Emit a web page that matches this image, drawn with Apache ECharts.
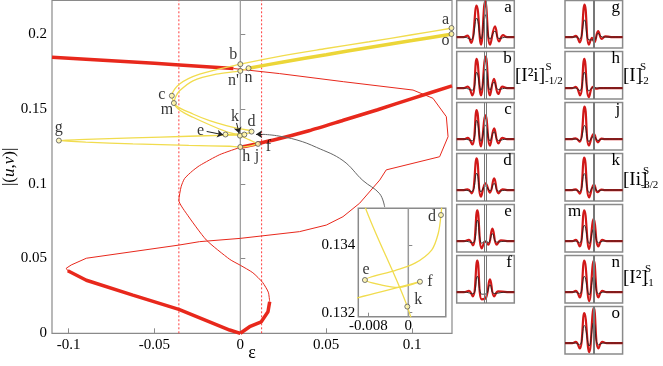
<!DOCTYPE html>
<html>
<head>
<meta charset="utf-8">
<script src="https://cdn.jsdelivr.net/npm/echarts@6/dist/echarts.min.js"></script>
<style>
html, body { margin: 0; padding: 0; background: #fff; }
#chart { width: 663px; height: 366px; }
</style>
</head>
<body>
<div id="chart"></div>
<script>
// ---- main diagram data (epsilon, |(u,v)|) ----
var mainXTicks = [-0.1, -0.05, 0, 0.05, 0.1];
var mainYTicks = [0, 0.05, 0.1, 0.15, 0.2];
var insetXTicks = [-0.008, 0];
var insetYTicks = [0.132, 0.134];
var dottedGuides = [-0.0358, 0.0124];

var redTopThick = [[-0.1097, 0.1846], [-0.08, 0.1827], [-0.05, 0.1806], [-0.0354, 0.1795], [-0.0062, 0.1773], [-0.004, 0.1771]];
var redTopThin = [[-0.004, 0.1771], [0.0229, 0.1737], [0.06, 0.1683], [0.1006, 0.1627], [0.1122, 0.1572], [0.12, 0.1449],
  [0.121, 0.1315], [0.1161, 0.1181], [0.085, 0.1093], [0.0812, 0.1025], [0.0695, 0.087], [0.0598, 0.078],
  [0.0501, 0.0724], [0.0345, 0.068], [0, 0.0635], [-0.0237, 0.0613], [-0.0358, 0.059], [-0.0897, 0.0502],
  [-0.0985, 0.0457], [-0.1014, 0.0435], [-0.1005, 0.0418]];
var redLowThick = [[-0.1005, 0.0418], [-0.0995, 0.0411], [-0.0897, 0.0355], [-0.0626, 0.0255], [-0.0358, 0.016], [-0.0062, 0.0022], [0, 0]];
var redRightThick = [[0, 0], [0.0054, 0.0044], [0.0122, 0.0077], [0.0161, 0.0144], [0.0171, 0.0211]];
var redRightThin = [[0.0171, 0.0211], [0.0163, 0.0275], [0.013, 0.034], [0.0073, 0.0405], [0, 0.0455], [-0.0062, 0.0495],
  [-0.0198, 0.0624], [-0.0315, 0.0803], [-0.0358, 0.0889], [-0.0345, 0.098], [-0.0325, 0.1035], [-0.028, 0.1085],
  [-0.0237, 0.1122], [-0.012, 0.1195], [0, 0.1244]];
var redUpperThick = [[0, 0.1244], [0.02, 0.1295], [0.04, 0.1355], [0.06, 0.1425], [0.08, 0.1495], [0.1, 0.157], [0.1233, 0.1655]];

var yelAC = [[0.1237, 0.2042], [0.1, 0.1997], [0.075, 0.195], [0.05, 0.1905], [0.025, 0.1858], [0, 0.18], [-0.0237, 0.1733],
  [-0.0354, 0.1667], [-0.0399, 0.1589], [-0.0373, 0.1522], [-0.0276, 0.1467], [-0.0179, 0.1422], [-0.0082, 0.1389],
  [0, 0.1367], [0.0062, 0.1356], [0.00667, 0.13515], [0.00653, 0.1349]];
var yelDEF = [[0.00653, 0.1349], [0.006, 0.13436], [0.00467, 0.13386], [0.00133, 0.13347], [-0.00267, 0.13325],
  [-0.00867, 0.13297], [-0.0053, 0.13282], [-0.002, 0.13275], [0.00233, 0.13292]];
var yelFG = [[0.00233, 0.13292], [-0.01, 0.13245], [-0.03, 0.1318], [-0.0626, 0.1307], [-0.09, 0.1297], [-0.1057, 0.1289],
  [-0.09, 0.1279], [-0.0626, 0.1267], [-0.03, 0.1257], [-0.0062, 0.1251], [0, 0.1246], [0.005, 0.1252], [0.0103, 0.1267]];
var yelJN = [[0.0103, 0.1267], [0.005, 0.1295], [-0.0002, 0.13218], [-0.00867, 0.13515], [-0.018, 0.1395], [-0.0276, 0.1445],
  [-0.035, 0.149], [-0.0387, 0.154], [-0.0375, 0.1585], [-0.0354, 0.1622], [-0.0276, 0.1689], [-0.014, 0.1733],
  [0, 0.1755], [0.0048, 0.1773]];
var yelNO = [[0.0048, 0.1773], [0.025, 0.1815], [0.05, 0.1863], [0.075, 0.1912], [0.1, 0.1958], [0.1237, 0.2002]];

var grayArc = [[0.013, 0.1331], [0.021, 0.1322], [0.033, 0.1293], [0.0443, 0.1244], [0.0598, 0.1155], [0.0714, 0.1022],
  [0.0812, 0.0933], [0.0841, 0.0844]];

var mainPointNames = ['a', 'o', 'b', "n'", 'n', 'c', 'm', 'g', 'e', 'k', 'f', 'd', 'h', 'j'];
var mainPointXY = [[0.123, 0.2042], [0.123, 0.2002], [0, 0.18], [0, 0.1755], [0.0048, 0.1773], [-0.0399, 0.1589],
  [-0.0387, 0.154], [-0.1057, 0.1289], [-0.00867, 0.13297], [-0.0002, 0.13218], [0.00233, 0.13292],
  [0.00653, 0.1349], [0, 0.1246], [0.0103, 0.1267]];
var insetPointNames = ['d', 'e', 'f', 'k'];
var insetPointXY = [[0.00653, 0.1349], [-0.00867, 0.13297], [0.00233, 0.13292], [-0.0002, 0.13218]];

// arrows: [from, to]
var arrowE = [[-0.0196, 0.135], [-0.0100, 0.1328]];
var arrowK = [[-0.0022, 0.1407], [-0.0007, 0.1338]];
var arrowF = [[0.013, 0.1331], [0.0092, 0.1331]];

// ---- profile panels (position, amplitude) ----
var redA = [[-10, 0], [-7.5, 0], [-6.3, 0.04], [-5, -0.16], [-3.1, 0.86], [-1.55, -0.21], [-0.1, 0.98], [1.6, -0.21], [3.3, 0.29], [4.7, -0.12], [6.1, 0.05], [7.5, 0], [10, 0]];
var blkA = [[-10, 0], [-7.5, 0], [-5, -0.07], [-3.1, 0.52], [-1.55, -0.05], [-0.1, 0.61], [1.6, -0.06], [3.3, 0.16], [4.7, -0.04], [7.5, 0], [10, 0]];
var redB = [[-10, 0], [-7.5, 0], [-6.2, 0.04], [-4.6, -0.2], [-3.07, 0.8], [-1.56, -0.2], [0.06, 0.86], [1.56, -0.2], [2.95, 0.25], [4.46, -0.16], [5.9, 0.04], [7.5, 0], [10, 0]];
var blkB = [[-10, 0], [-7.5, 0], [-4.6, -0.06], [-3.07, 0.43], [-1.56, -0.06], [0.06, 0.52], [1.56, -0.06], [2.95, 0.16], [4.46, -0.04], [7.5, 0], [10, 0]];
var redC = [[-10, 0], [-7.5, 0], [-6.2, 0.03], [-4.6, -0.15], [-3.07, 0.79], [-1.56, -0.2], [0, 0.65], [1.56, -0.18], [3, 0.29], [4.5, -0.12], [5.9, 0.03], [7.5, 0], [10, 0]];
var blkC = [[-10, 0], [-7.5, 0], [-4.6, -0.05], [-3.07, 0.51], [-1.56, -0.06], [0, 0.38], [1.56, -0.05], [3, 0.2], [4.5, -0.04], [7.5, 0], [10, 0]];
var redD = [[-10, 0], [-7.5, 0], [-6.2, 0.02], [-4.8, -0.09], [-3.07, 0.87], [-1.56, -0.18], [0, 0.18], [1.56, -0.07], [3, 0.32], [4.5, -0.09], [5.9, 0.02], [7.5, 0], [10, 0]];
var blkD = [[-10, 0], [-7.5, 0], [-4.8, -0.04], [-3.07, 0.46], [-1.56, -0.05], [0, 0.11], [1.56, -0.02], [3, 0.18], [4.5, -0.03], [7.5, 0], [10, 0]];
var redE = [[-10, 0], [-7.5, 0], [-5.8, 0.03], [-4.4, -0.12], [-2.84, 0.84], [-1.3, -0.2], [0, -0.02], [1.0, -0.1], [2.4, 0.34], [3.9, -0.1], [5.3, 0.02], [7.5, 0], [10, 0]];
var blkE = [[-10, 0], [-7.5, 0], [-4.4, -0.05], [-2.84, 0.57], [-1.3, -0.06], [0, 0], [1.0, -0.04], [2.4, 0.2], [3.9, -0.03], [7.5, 0], [10, 0]];
var redF = [[-10, 0], [-7.5, 0], [-5.8, 0.03], [-4.4, -0.12], [-2.84, 0.86], [-1.3, -0.2], [0.2, -0.15], [1.56, 0.35], [3, -0.12], [4.4, 0.02], [7.5, 0], [10, 0]];
var blkF = [[-10, 0], [-7.5, 0], [-4.4, -0.05], [-2.84, 0.43], [-1.3, -0.06], [0.2, -0.05], [1.56, 0.2], [3, -0.04], [7.5, 0], [10, 0]];
var redG = [[-10, 0], [-7.5, 0], [-6.3, 0.03], [-4.9, -0.15], [-3.2, 0.89], [-1.67, -0.21], [-0.6, -0.02], [0.2, -0.15], [1.5, 0.16], [2.8, -0.05], [4, 0.02], [6, 0], [10, 0]];
var blkG = [[-10, 0], [-6, 0], [-4.9, -0.06], [-3.2, 0.47], [-1.67, -0.08], [0.2, -0.08], [1.5, 0.1], [3, 0], [10, 0]];
var redH = [[-10, 0], [-7.5, 0], [-6.3, 0.03], [-4.8, -0.2], [-3.3, 0.8], [-1.7, -0.25], [-0.3, 0.03], [0.8, -0.02], [2, 0], [10, 0]];
var blkH = [[-10, 0], [-6.5, 0], [-4.8, -0.07], [-3.3, 0.43], [-1.7, -0.08], [-0.3, 0.01], [2, 0], [10, 0]];
var redJ = [[-10, 0], [-7.5, 0], [-6.3, 0.02], [-4.9, -0.07], [-3.2, 0.89], [-1.67, -0.18], [0, 0.14], [1.46, -0.09], [2.6, 0.01], [4, 0], [10, 0]];
var blkJ = [[-10, 0], [-6.5, 0], [-4.9, -0.04], [-3.2, 0.37], [-1.67, -0.07], [0, 0.08], [1.46, -0.04], [3, 0], [10, 0]];
var redK = [[-10, 0], [-7.5, 0], [-6.3, 0.02], [-4.9, -0.1], [-3.3, 0.89], [-1.6, -0.2], [0.07, 0.15], [1.3, -0.06], [2.6, 0.01], [4, 0], [10, 0]];
var blkK = [[-10, 0], [-6.5, 0], [-4.9, -0.04], [-3.3, 0.45], [-1.6, -0.07], [0.07, 0.1], [1.3, -0.03], [3, 0], [10, 0]];
var redM = [[-10, 0], [-7.5, 0], [-6.3, 0.03], [-4.9, -0.15], [-3.3, 0.84], [-1.6, -0.22], [0, 0.61], [1.6, -0.15], [3, 0.03], [4.5, 0], [10, 0]];
var blkM = [[-10, 0], [-6.5, 0], [-4.9, -0.05], [-3.3, 0.43], [-1.6, -0.07], [0, 0.34], [1.6, -0.05], [3.5, 0], [10, 0]];
var redN = [[-10, 0], [-7.5, 0], [-6.3, 0.03], [-4.9, -0.15], [-3.3, 0.86], [-1.6, -0.25], [0, 0.86], [1.6, -0.15], [3, 0.03], [4.5, 0], [10, 0]];
var blkN = [[-10, 0], [-6.5, 0], [-4.9, -0.05], [-3.3, 0.43], [-1.6, -0.08], [0, 0.43], [1.6, -0.05], [3.5, 0], [10, 0]];
var redO = [[-10, 0], [-7.5, 0], [-6.3, 0.03], [-4.9, -0.15], [-3.3, 0.82], [-1.6, -0.25], [0, 0.96], [1.6, -0.15], [3, 0.03], [4.5, 0], [10, 0]];
var blkO = [[-10, 0], [-6.5, 0], [-4.9, -0.05], [-3.3, 0.48], [-1.6, -0.08], [0, 0.57], [1.6, -0.05], [3.5, 0], [10, 0]];

var panelNames = ['a', 'b', 'c', 'd', 'e', 'f', 'g', 'h', 'j', 'k', 'm', 'n', 'o'];
var panelRed = [redA, redB, redC, redD, redE, redF, redG, redH, redJ, redK, redM, redN, redO];
var panelBlk = [blkA, blkB, blkC, blkD, blkE, blkF, blkG, blkH, blkJ, blkK, blkM, blkN, blkO];
var panelCenterLines = [-0.3, 0.3];

// ---- styling / layout ----
var SERIF = '"Liberation Serif", "DejaVu Serif", serif';
var GRAY = '#8a8a8a';
var RED = '#e8281c';
var YEL = '#f1dc4e';
var YEL_THICK = '#ecd638';
var Y_TOP = 0.2226;
var MAIN = {left: 52, top: 0.5, width: 400, height: 332.8};
var INSET = {left: 358.3, top: 208.3, width: 87.5, height: 108.4};
var labelOffsets = {
  'a': [-6, -8], 'o': [-6, 7], 'b': [-7, -9], "n'": [-7, 10], 'n': [0, 10], 'c': [-10, -1], 'm': [-7, 7],
  'g': [0, -13], 'e': [-25, -4], 'k': [-5, -19], 'f': [24, 12], 'd': [0, -10], 'h': [6, 10], 'j': [-1, 12]
};
var insetLabelOffsets = {'d': [-9, 2], 'e': [1, -10], 'f': [10, 0], 'k': [11, -7]};

var chart = echarts.init(document.getElementById('chart'));

var grids = [
  {left: MAIN.left, top: MAIN.top, width: MAIN.width, height: MAIN.height, show: true, borderColor: GRAY, borderWidth: 1.2,
    backgroundColor: 'transparent', containLabel: false, outerBoundsMode: 'none'},
  {left: INSET.left, top: INSET.top, width: INSET.width, height: INSET.height, show: true, borderColor: GRAY, borderWidth: 1.5,
    backgroundColor: '#fff', z: 10, containLabel: false, outerBoundsMode: 'none'}
];
var xAxes = [
  {
    gridIndex: 0, type: 'value', min: -0.1097, max: 0.1233,
    name: 'ε', nameLocation: 'middle', nameGap: 11, nameMoveOverlap: false,
    nameTextStyle: {fontFamily: SERIF, fontSize: 18, color: '#000'},
    axisLine: {show: false}, splitLine: {show: false},
    axisTick: {inside: true, length: 5, lineStyle: {color: GRAY}, customValues: mainXTicks},
    axisLabel: {customValues: mainXTicks, fontFamily: SERIF, fontSize: 15, color: '#000', margin: 4,
      formatter: function (v) { return String(v); }}
  },
  {
    gridIndex: 1, type: 'value', min: -0.010, max: 0.0075, z: 11,
    axisLine: {show: false}, splitLine: {show: false},
    axisTick: {inside: true, length: 4, lineStyle: {color: GRAY}, customValues: insetXTicks},
    axisLabel: {customValues: insetXTicks, fontFamily: SERIF, fontSize: 15, color: '#000', margin: 2,
      formatter: function (v) { return String(v); }}
  }
];
var yAxes = [
  {
    gridIndex: 0, type: 'value', min: 0, max: Y_TOP,
    name: '|({i|u},{i|v})|', nameLocation: 'middle', nameGap: 34, nameMoveOverlap: false,
    nameTextStyle: {fontFamily: SERIF, fontSize: 17, color: '#000',
      rich: {i: {fontFamily: SERIF, fontSize: 17, fontStyle: 'italic', color: '#000'}}},
    axisLine: {show: false}, splitLine: {show: false},
    axisTick: {inside: true, length: 5, lineStyle: {color: GRAY}, customValues: mainYTicks},
    axisLabel: {customValues: mainYTicks, fontFamily: SERIF, fontSize: 15, color: '#000', margin: 5,
      formatter: function (v) { return String(v); }}
  },
  {
    gridIndex: 1, type: 'value', min: 0.13188, max: 0.1351, z: 11,
    axisLine: {show: false}, splitLine: {show: false},
    axisTick: {inside: true, length: 4, lineStyle: {color: GRAY}, customValues: insetYTicks},
    axisLabel: {customValues: insetYTicks, fontFamily: SERIF, fontSize: 15, color: '#000', margin: 3,
      formatter: function (v) { return v.toFixed(3); }}
  }
];

function lineSeries(data, color, width, xi, extra) {
  var s = {
    type: 'line', data: data, xAxisIndex: xi, yAxisIndex: xi,
    showSymbol: false, symbol: 'none', silent: true, animation: false,
    lineStyle: {color: color, width: width}
  };
  for (var k in extra) s[k] = extra[k];
  if (extra.lineType) s.lineStyle.type = extra.lineType;
  return s;
}

var series = [];
// main guides: red dotted verticals and gray epsilon = 0 line, as full-height two-point lines
dottedGuides.forEach(function (x) {
  series.push(lineSeries([[x, 0], [x, Y_TOP]], '#ff3a3a', 1, 0, {lineType: [2, 2], z: 1}));
});
series.push(lineSeries([[0, 0], [0, Y_TOP]], '#9a9a9a', 1.2, 0, {z: 1}));
series.push(lineSeries(redTopThick, RED, 3.5, 0, {}));
series.push(lineSeries(redTopThin, RED, 1, 0, {}));
series.push(lineSeries(redLowThick, RED, 3.5, 0, {}));
series.push(lineSeries(redRightThick, RED, 3.5, 0, {}));
series.push(lineSeries(redRightThin, RED, 1, 0, {smooth: 0.2}));
series.push(lineSeries(redUpperThick, RED, 3.5, 0, {smooth: 0.2}));
series.push(lineSeries(grayArc, '#666', 1, 0, {smooth: 0.4}));
[yelAC, yelDEF, yelFG, yelJN].forEach(function (d) {
  series.push(lineSeries(d, YEL, 1.3, 0, {smooth: 0.3}));
});
series.push(lineSeries(yelNO, YEL_THICK, 3.5, 0, {smooth: 0.3}));

// arrows
series.push({
  type: 'line', data: [], xAxisIndex: 0, yAxisIndex: 0, silent: true,
  markLine: {
    silent: true, symbol: ['none', 'arrow'], symbolSize: 6, label: {show: false}, animation: false, precision: 6,
    lineStyle: {color: '#222', type: 'solid', width: 1},
    data: [arrowE, arrowK, arrowF].map(function (a) {
      return [{coord: a[0]}, {coord: a[1]}];
    })
  }
});

function pointSeries(names, xy, offsets, axisIndex, z) {
  return {
    type: 'scatter', xAxisIndex: axisIndex, yAxisIndex: axisIndex, z: z, clip: false, silent: true,
    symbol: 'circle', symbolSize: 5, animation: false,
    itemStyle: {color: '#fff6b0', borderColor: '#555', borderWidth: 1},
    data: names.map(function (n, i) {
      return {
        value: xy[i], name: n,
        label: {show: true, position: 'inside', offset: offsets[n], formatter: n,
          fontFamily: SERIF, fontSize: 16, color: '#000'}
      };
    })
  };
}
series.push(pointSeries(mainPointNames, mainPointXY, labelOffsets, 0, 3));

// inset
series.push(lineSeries([[0, 0.13188], [0, 0.1351]], '#9a9a9a', 1.5, 1, {z: 12}));
[yelAC, yelDEF, yelFG, yelJN].forEach(function (d) {
  series.push(lineSeries(d, YEL, 1.3, 1, {smooth: 0.3, z: 12, clip: true}));
});
series.push(pointSeries(insetPointNames, insetPointXY, insetLabelOffsets, 1, 13));

// panels
var graphics = [];
panelNames.forEach(function (name, i) {
  var col = i < 6 ? 0 : 1;
  var row = i < 6 ? i : i - 6;
  var left = col === 0 ? 456.7 : 565;
  var top = 0.5 + 51 * row;
  var w = 57.6, h = 47.5;
  var gi = grids.length;
  grids.push({left: left, top: top, width: w, height: h, show: true, borderColor: GRAY, borderWidth: 1.5,
    backgroundColor: '#fff', containLabel: false, outerBoundsMode: 'none'});
  xAxes.push({gridIndex: gi, type: 'value', min: -10, max: 10, show: false});
  yAxes.push({gridIndex: gi, type: 'value', min: -0.3, max: 1, show: false});
  series.push({
    type: 'line', data: panelRed[i], xAxisIndex: gi, yAxisIndex: gi, smooth: 0.45,
    showSymbol: false, symbol: 'none', silent: true, animation: false,
    lineStyle: {color: '#d01818', width: 2.2},
    markLine: {
      silent: true, symbol: 'none', label: {show: false}, animation: false, precision: 6,
      lineStyle: {color: '#777', type: 'solid', width: 1},
      data: panelCenterLines.map(function (x) { return {xAxis: x}; })
    }
  });
  series.push({
    type: 'line', data: panelBlk[i], xAxisIndex: gi, yAxisIndex: gi, smooth: 0.45, z: 3,
    showSymbol: false, symbol: 'none', silent: true, animation: false,
    lineStyle: {color: '#222', width: 0.9}
  });
  var atLeft = name === 'm';
  graphics.push({
    type: 'text', z: 50, silent: true,
    x: atLeft ? left + 3 : left + w - 2.5, y: top + 7,
    style: {text: name, fontFamily: SERIF, fontSize: 17, fill: '#000',
      align: atLeft ? 'left' : 'right', verticalAlign: 'middle'}
  });
});

function txt(x, y, s, size) {
  return {type: 'text', z: 50, silent: true, x: x, y: y,
    style: {text: s, fontFamily: SERIF, fontSize: size, fill: '#000', align: 'left', verticalAlign: 'middle'}};
}
// family labels
graphics.push(txt(515, 76, '[I²i]', 19), txt(545.5, 67, 'S', 11), txt(545, 81, '-1/2', 11));
graphics.push(txt(623, 76, '[I]', 19), txt(640, 67, 'S', 11), txt(639.5, 81, '-2', 11));
graphics.push(txt(623, 180, '[Ii]', 19), txt(643, 171, 'S', 11), txt(640.5, 185, '-3/2', 11));
graphics.push(txt(623, 278, '[I²]', 19), txt(645, 269, 'S', 11), txt(644.5, 283, '-1', 11));

chart.setOption({
  animation: false,
  backgroundColor: '#fff',
  grid: grids,
  xAxis: xAxes,
  yAxis: yAxes,
  series: series,
  graphic: graphics
});
</script>
</body>
</html>
